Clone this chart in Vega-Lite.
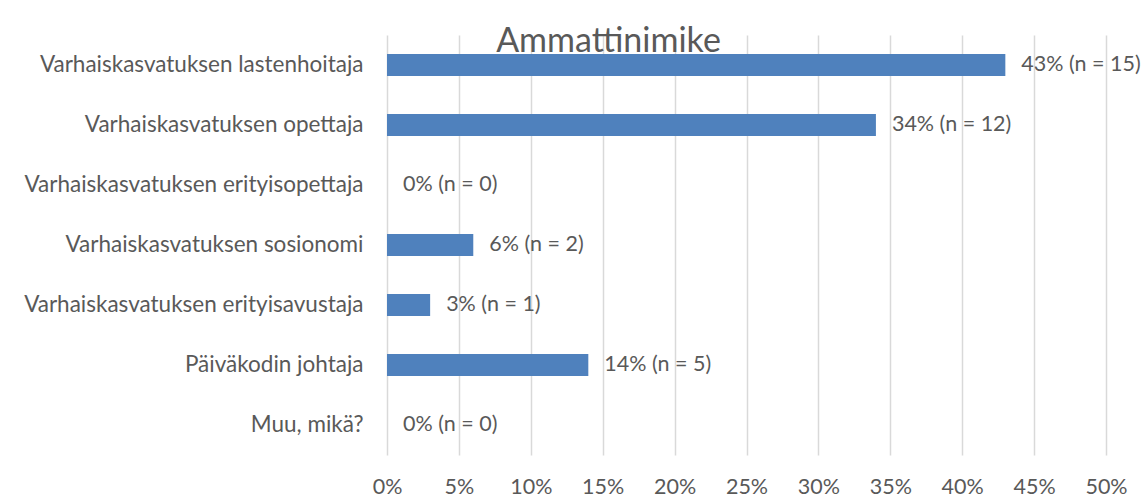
{
  "$schema": "https://vega.github.io/schema/vega-lite/v6.json",
  "autosize": "none",
  "padding": {"left": 387, "top": 35, "right": 41, "bottom": 42},
  "width": 719,
  "height": 420,
  "background": "white",
  "title": {
    "text": "Ammattinimike",
    "anchor": "middle",
    "orient": "top",
    "offset": 0,
    "baseline": "alphabetic",
    "dx": -138,
    "dy": 51,
    "font": "Lato",
    "fontSize": 34,
    "fontWeight": "normal",
    "color": "#595959"
  },
  "data": {
    "values": [
      {"category": "Varhaiskasvatuksen lastenhoitaja", "pct": 43, "label": "43% (n = 15)"},
      {"category": "Varhaiskasvatuksen opettaja", "pct": 34, "label": "34% (n = 12)"},
      {"category": "Varhaiskasvatuksen erityisopettaja", "pct": 0, "label": "0% (n = 0)"},
      {"category": "Varhaiskasvatuksen sosionomi", "pct": 6, "label": "6% (n = 2)"},
      {"category": "Varhaiskasvatuksen erityisavustaja", "pct": 3, "label": "3% (n = 1)"},
      {"category": "Päiväkodin johtaja", "pct": 14, "label": "14% (n = 5)"},
      {"category": "Muu, mikä?", "pct": 0, "label": "0% (n = 0)"}
    ]
  },
  "encoding": {
    "y": {
      "field": "category",
      "type": "nominal",
      "sort": null,
      "scale": {"paddingInner": 0.633, "paddingOuter": 0.3165},
      "axis": {
        "title": null,
        "domain": false,
        "ticks": false,
        "labelPadding": 24,
        "labelFont": "Lato",
        "labelFontSize": 22.5,
        "labelColor": "#595959",
        "labelLimit": 500
      }
    },
    "x": {
      "field": "pct",
      "type": "quantitative",
      "scale": {"domain": [0, 50], "nice": false},
      "axis": {
        "title": null,
        "values": [0, 5, 10, 15, 20, 25, 30, 35, 40, 45, 50],
        "labelExpr": "datum.value + '%'",
        "domain": false,
        "ticks": false,
        "grid": true,
        "gridColor": "#D9D9D9",
        "gridWidth": 1.5,
        "labelPadding": 21,
        "labelFont": "Lato",
        "labelFontSize": 21.5,
        "labelColor": "#595959",
        "labelFlush": false
      }
    }
  },
  "layer": [
    {"mark": {"type": "bar", "color": "#4F81BD"}},
    {
      "mark": {"type": "text", "align": "left", "baseline": "middle", "dx": 16, "font": "Lato", "fontSize": 21.5, "color": "#595959"},
      "encoding": {"text": {"field": "label"}}
    }
  ],
  "config": {"view": {"stroke": null}}
}
